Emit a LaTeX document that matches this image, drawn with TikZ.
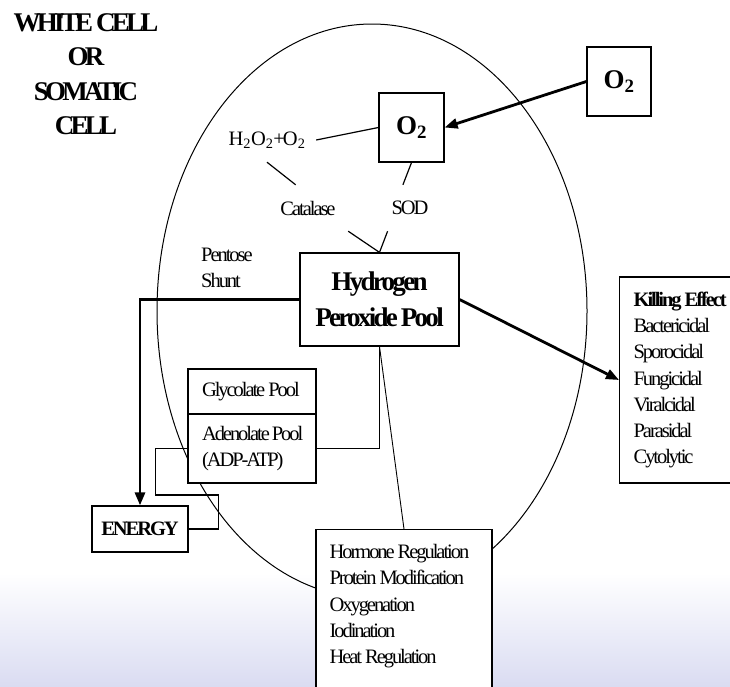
\documentclass[tikz,border=0pt]{standalone}
\usepackage{fontspec}
\setmainfont{Liberation Serif}[LetterSpace=-10]
\newfontfamily\titlefont{Liberation Serif}[LetterSpace=-14]
\usepackage{tikz}
\usetikzlibrary{arrows.meta}
\definecolor{lavbg}{RGB}{218,220,242}
\newcommand{\tightsp}{\spaceskip=3pt plus 1pt minus 1pt\relax}
\newcommand{\txtsize}{\fontsize{20.5}{26.3}\selectfont\tightsp}

\begin{document}
\begin{tikzpicture}[x=1pt,y=-1pt,
  box/.style={draw,fill=white,line width=1.2pt,inner sep=0pt},
  lbl/.style={inner sep=0pt,font=\txtsize},
  link/.style={line width=1.2pt},
  heavy/.style={line width=2.8pt,-{Triangle[length=13pt,width=10pt]}}]

  \useasboundingbox (0,0) rectangle (730,686);

  % background and cell outline
  \shade[top color=white,bottom color=lavbg] (0,573) rectangle (730,686);
  \draw[line width=1pt] (372,311) ellipse (215 and 287);

  % Specification of nodes (position, etc.)
  \node[align=flush center,font=\titlefont\bfseries\fontsize{27}{34.5}\selectfont\tightsp] (title) at (86,74) {WHITE CELL\\OR\\SOMATIC\\CELL};
  \node[box,minimum width=65pt,minimum height=69pt,font=\bfseries\fontsize{27}{30}\selectfont] (o2in) at (411.5,127.5) {O\textsubscript{2}};
  \node[box,minimum width=64pt,minimum height=69pt,font=\bfseries\fontsize{27}{30}\selectfont] (o2out) at (619,81.5) {O\textsubscript{2}};
  \node[lbl,minimum width=98pt,minimum height=44pt] (h2o2) at (267,140) {H\textsubscript{2}O\textsubscript{2}+O\textsubscript{2}};
  \node[lbl,minimum width=80pt,minimum height=46pt] (catalase) at (308,208) {Catalase};
  \node[lbl,minimum width=80pt,minimum height=46pt] (sod) at (410,208) {SOD};
  \node[lbl,align=flush left,anchor=west] (pentose) at (201,268) {Pentose\\Shunt};
  \node[box,minimum width=159pt,minimum height=93pt,align=flush center,font=\bfseries\fontsize{27}{36}\selectfont\tightsp] (pool) at (379.5,299.5) {Hydrogen\\Peroxide Pool};
  \node[box,lbl,text width=100pt,inner xsep=14pt,align=flush left,minimum height=45pt] (glyco) at (252,391.5) {Glycolate~Pool};
  \node[box,lbl,text width=100pt,inner xsep=14pt,align=flush left,minimum height=69pt] (adeno) at (252,448.5) {Adenolate~Pool\\(ADP-ATP)};
  \node[box,minimum width=96pt,minimum height=46pt,font=\bfseries\txtsize] (energy) at (140,529) {ENERGY};
  \node[box,lbl,anchor=west,text width=120pt,inner xsep=14pt,align=flush left,minimum height=206pt] (kill) at (619,380)
    {\textbf{Killing Effect}\\Bactericidal\\Sporocidal\\Fungicidal\\Viralcidal\\Parasidal\\Cytolytic};
  \node[box,anchor=north,minimum width=176pt,minimum height=170pt] (regbox) at (404,529) {};
  \node[lbl,anchor=north west,text width=150pt,align=flush left,inner xsep=14pt,inner ysep=15pt] (regtext) at (regbox.north west)
    {Hormone Regulation\\Protein Modification\\Oxygenation\\Iodination\\Heat Regulation};

  % connectors
  \draw[heavy] (o2out.west) -- (o2in.east);
  \draw[link] (h2o2.east) -- (o2in.west);
  \draw[link] (h2o2.south) -- (catalase.118);
  \draw[link] (o2in.south) -- (sod.107);
  \draw[link] (catalase.south east) -- (pool.north);
  \draw[link] (sod.226) -- (pool.north);
  \draw[heavy] (pool.west) -| (energy.north);
  \draw[heavy] (pool.east) -- (kill.west);
  \draw[link] (pool.south) |- (adeno.east);
  \draw[line width=0.9pt] (pool.south) -- (regbox.north);
  \draw[link] (adeno.west) -- ++(-32,0) -- ++(0,46.5) -- ++(63,0) |- (energy.east);

\end{tikzpicture}
\end{document}
